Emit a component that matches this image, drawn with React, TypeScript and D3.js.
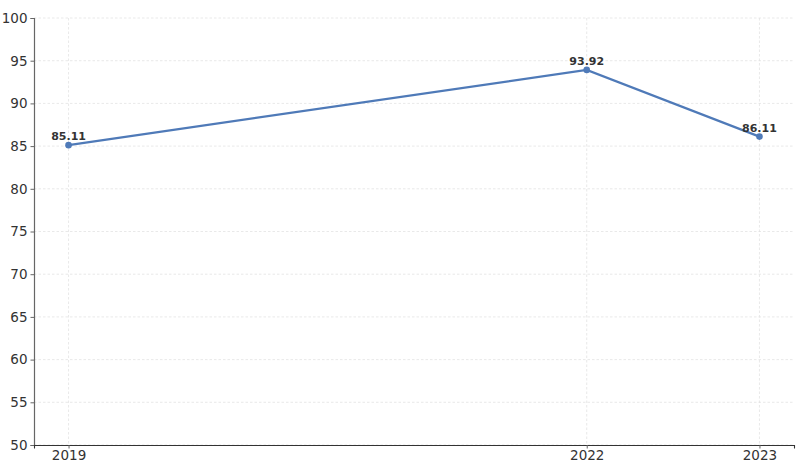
import * as d3 from 'd3';
import React, { useRef, useEffect } from 'react';

const years = [2019, 2022, 2023];
const values = [85.11, 93.92, 86.11];
const yTicks = [50, 55, 60, 65, 70, 75, 80, 85, 90, 95, 100];

const W = 797;
const H = 463;

const App: React.FC = () => {
    const svgRef = useRef<SVGSVGElement | null>(null);

    useEffect(() => {
        const l = 34, r = 3, t = 18, b = 18;
        const gw = W - l - r;
        const gh = H - t - b;

        const svg = d3.select(svgRef.current).attr('width', W).attr('height', H);
        svg.selectAll('*').remove();
        svg.append('rect').attr('width', W).attr('height', H).attr('fill', '#fff');

        const g = svg.append('g').attr('transform', `translate(${l},${t})`);

        const x = d3.scaleLinear().domain([2018.8, 2023.2]).range([0, gw]);
        const y = d3.scaleLinear().domain([50, 100]).range([gh, 0]);

        // grid
        g.selectAll('.hg').data(yTicks).enter().append('line')
            .attr('x1', 0).attr('x2', gw)
            .attr('y1', d => y(d)).attr('y2', d => y(d))
            .attr('stroke', '#e0e0e0').attr('stroke-width', 0.7)
            .attr('stroke-dasharray', '2.5,2');
        g.selectAll('.vg').data(years).enter().append('line')
            .attr('x1', d => x(d)).attr('x2', d => x(d))
            .attr('y1', 0).attr('y2', gh)
            .attr('stroke', '#e0e0e0').attr('stroke-width', 0.7)
            .attr('stroke-dasharray', '2.5,2');

        // axes
        const ya = g.append('g')
            .call(d3.axisLeft(y).tickValues(yTicks).tickSize(3.5).tickPadding(3).tickFormat(d3.format('d')));
        ya.select('.domain').attr('stroke', '#666').attr('stroke-width', 1.2);
        ya.selectAll('.tick line').attr('stroke', '#666');
        ya.selectAll('text').attr('fill', '#333').style('font-size', '13.5px').style('font-family', 'DejaVu Sans');

        const xa = g.append('g').attr('transform', `translate(0,${gh})`)
            .call(d3.axisBottom(x).tickValues(years).tickSize(3.5).tickPadding(2).tickFormat(d3.format('d')));
        xa.select('.domain').attr('stroke', '#333').attr('stroke-width', 1.1);
        xa.selectAll('.tick line').attr('stroke', '#666');
        xa.selectAll('text').attr('fill', '#333').style('font-size', '13.5px').style('font-family', 'DejaVu Sans');

        const pts = years.map((yr, i) => ({ yr, v: values[i] }));

        g.append('path').datum(pts)
            .attr('fill', 'none').attr('stroke', '#4f7ab8').attr('stroke-width', 2.2)
            .attr('d', d3.line<{ yr: number; v: number }>().x(d => x(d.yr)).y(d => y(d.v)));

        g.selectAll('circle').data(pts).enter().append('circle')
            .attr('cx', d => x(d.yr)).attr('cy', d => y(d.v)).attr('r', 3.3)
            .attr('fill', '#4f7ab8');

        g.selectAll('.lbl').data(pts).enter().append('text')
            .attr('x', d => x(d.yr)).attr('y', d => y(d.v) - 5)
            .attr('text-anchor', 'middle')
            .attr('fill', '#333')
            .style('font-family', 'DejaVu Sans')
            .style('font-size', '11px')
            .style('font-weight', 'bold')
            .text(d => d.v.toFixed(2));
    }, []);

    return (
        <svg ref={svgRef} style={{ position: 'absolute', left: 0, top: 0 }}></svg>
    );
};

export default App;
